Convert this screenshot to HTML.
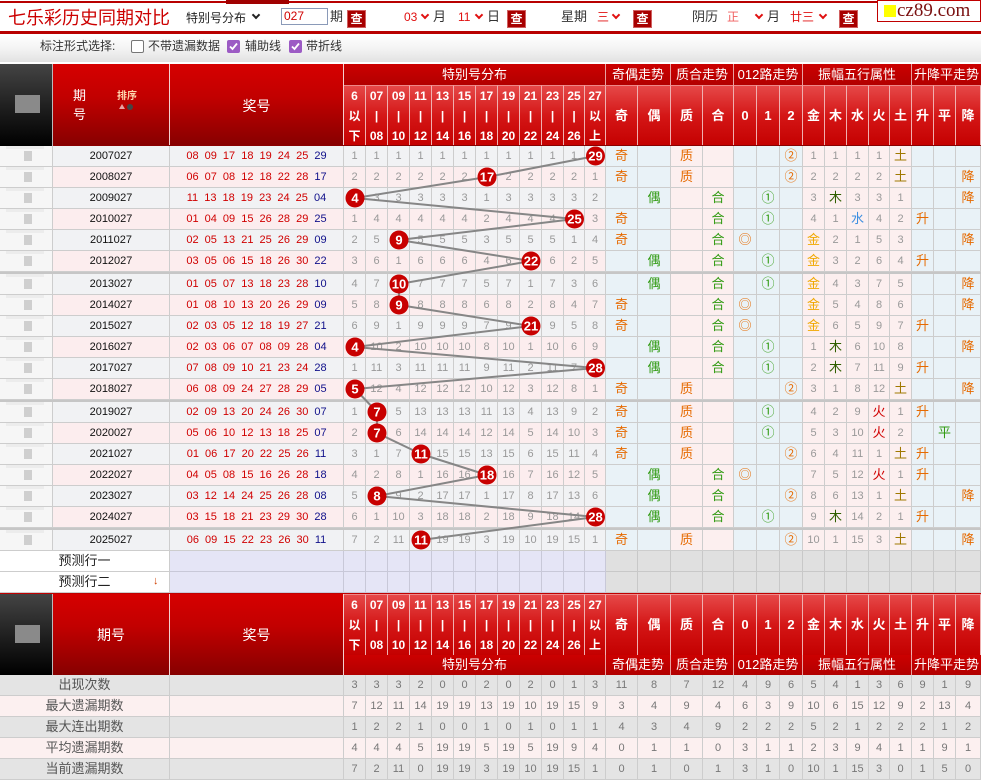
<!DOCTYPE html>
<html><head><meta charset="utf-8">
<style>
*{margin:0;padding:0;box-sizing:border-box}
html,body{width:981px;height:781px;overflow:hidden;background:#fff}
body{position:relative;font-family:"Liberation Sans","Noto Sans CJK SC",sans-serif;font-size:12px;color:#333}
.a{position:absolute;white-space:nowrap}
.btn{position:absolute;top:10px;width:19px;height:18px;background:#a80000;color:#fff;font-size:12px;line-height:16px;text-align:center;font-weight:bold;border:1px solid #d06060}
.rd{color:#e01010}
.ch{position:absolute;top:12px;width:6px;height:6px;border-right:2px solid #e01010;border-bottom:2px solid #e01010;transform:rotate(45deg)}
.cb{position:absolute;top:40px;width:13px;height:13px;border-radius:2px}
.imgc{background:linear-gradient(#8a8a8a,#8a8a8a) 15px 31px/25px 18px no-repeat,linear-gradient(#777,#777) 28px 31px/12px 9px no-repeat,linear-gradient(#444,#1a1a1a 60%,#000);border-right:1px solid #bbb}
.lh{background:linear-gradient(#d60000,#c20000 40%,#860000);border-right:1px solid #f4d0d0;color:#fff}
.g1{position:absolute;height:21px;line-height:21px;text-align:center;color:#fff;font-size:13px;background:linear-gradient(#cc0000,#b20000);border-right:1px solid #e8a0a0}
.hn{position:absolute;left:344px;height:61px;display:flex}
.hn i{font-style:normal;flex:none;width:22px;height:61px;color:#fff;font-weight:bold;font-size:12px;line-height:20px;text-align:center;border-right:1px solid #f0b0b0;border-top:1px solid #e88;background:linear-gradient(#e64848,#d41616 50%,#c40000)}
.hn i:nth-child(11),.hn i:nth-child(12),.hn i:nth-child(23){width:21px}
.hn i:nth-child(13),.hn i:nth-child(15){width:32px}
.hn i:nth-child(14){width:33px}
.hn i:nth-child(16){width:31px}
.hn i:nth-child(17),.hn i:nth-child(18),.hn i:nth-child(19){width:23px}
.hn i:nth-child(27){width:25px}
.hn i:nth-child(n+13){line-height:59px;font-size:13px}
.r{position:absolute;left:0;width:981px;height:21px;display:flex;font-size:11px;color:#999}
.r>i{font-style:normal;flex:none;width:22px;height:21px;line-height:20px;text-align:center;border-right:1px solid #cdcdcd;border-bottom:1px solid #cdcdcd;overflow:hidden;white-space:nowrap}
.r>i:nth-child(1){width:53px}
.r>i:nth-child(2){width:117px}
.r>i:nth-child(3){width:174px}
.r>i:nth-child(14),.r>i:nth-child(15),.r>i:nth-child(26){width:21px}
.r>i:nth-child(16),.r>i:nth-child(18){width:32px}
.r>i:nth-child(17){width:33px}
.r>i:nth-child(19){width:31px}
.r>i:nth-child(20),.r>i:nth-child(21),.r>i:nth-child(22){width:23px}
.r>i:nth-child(30){width:25px}
.o>i{background:#f1f2f4}
.e>i{background:#fcedee}
.d>i:nth-child(1){background:linear-gradient(#cfcfcf,#cfcfcf) 24px 5px/8px 10px no-repeat,linear-gradient(#ececec,#ececec) 6px 0/38px 3px no-repeat,#f6f6f6}
.d>i:nth-child(2){color:#111}
.d>i:nth-child(16),.d>i:nth-child(17),.d>i:nth-child(20),.d>i:nth-child(21),.d>i:nth-child(22),.d>i:nth-child(28),.d>i:nth-child(29),.d>i:nth-child(30){background:#e9f2f7}
.d>i:nth-child(18),.d>i:nth-child(19),.d>i:nth-child(23),.d>i:nth-child(24),.d>i:nth-child(25),.d>i:nth-child(26),.d>i:nth-child(27){background:#fcefef}
.n{color:#d00000;word-spacing:3px}
.n b{color:#10108a;font-weight:normal}
.q,.g,.j,.m,.s,.h,.t{font-size:13px}
.q{color:#e66a00}.g{color:#2f9a10}.j{color:#f0a800}.m{color:#2f5f00}.s{color:#3d8fe0}.h{color:#d00000}.t{color:#a07800}
.sep{position:absolute;left:0;width:981px;height:2px;background:#c6c6c6}
.p>i:nth-child(1),.st>i:nth-child(1),.sp>i:nth-child(1){width:0;border:0}
.p>i:nth-child(2),.st>i:nth-child(2),.sp>i:nth-child(2){width:170px;font-size:13px;color:#222}
.p>i:nth-child(2){background:#fff}
.p>i:nth-child(n+3){background:#e5e5f6;border-color:#c8c8d8}
.p>i:nth-child(n+16){background:#e0e0e0;border-color:#c8c8c8}
.st>i{background:#e4e4e4;color:#777}
.sp>i{background:#fcf0f0;color:#777}
.st>i:nth-child(2),.sp>i:nth-child(2){color:#555}
</style></head><body>

<!-- top bar -->
<div class="a" style="left:0;top:1px;width:877px;height:2px;background:#b80000"></div>
<div class="a" style="left:226px;top:0;width:63px;height:4px;background:#a00000"></div>
<div class="a" style="left:8px;top:7px;font-size:18px;line-height:22px;color:#cc0000">七乐彩历史同期对比</div>
<div class="a" style="left:186px;top:11px;font-size:12px;line-height:14px;color:#222">特别号分布</div>
<div class="ch" style="left:253px;border-color:#222"></div>
<div class="a" style="left:281px;top:8px;width:47px;height:17px;border:1px solid #8a9ab8;background:#fff;color:#d00000;font-size:12px;line-height:15px;padding-left:2px">027</div>
<div class="a" style="left:330px;top:9px;font-size:13px;line-height:16px">期</div>
<div class="btn" style="left:347px">查</div>
<div class="a rd" style="left:404px;top:10px;font-size:12px;line-height:14px">03</div>
<div class="ch" style="left:422px"></div>
<div class="a" style="left:433px;top:9px;font-size:13px;line-height:16px">月</div>
<div class="a rd" style="left:458px;top:10px;font-size:12px;line-height:14px">11</div>
<div class="ch" style="left:476px"></div>
<div class="a" style="left:487px;top:9px;font-size:13px;line-height:16px">日</div>
<div class="btn" style="left:507px">查</div>
<div class="a" style="left:561px;top:9px;font-size:13px;line-height:16px">星期</div>
<div class="a rd" style="left:597px;top:9px;font-size:12px;line-height:16px">三</div>
<div class="ch" style="left:613px"></div>
<div class="btn" style="left:633px">查</div>
<div class="a" style="left:692px;top:9px;font-size:13px;line-height:16px">阴历</div>
<div class="a" style="left:727px;top:9px;font-size:12px;line-height:16px;color:#f06060">正</div>
<div class="ch" style="left:756px"></div>
<div class="a" style="left:767px;top:9px;font-size:13px;line-height:16px">月</div>
<div class="a rd" style="left:790px;top:9px;font-size:12px;line-height:16px">廿三</div>
<div class="ch" style="left:820px"></div>
<div class="btn" style="left:839px">查</div>
<div class="a" style="left:877px;top:0;width:104px;height:22px;border:1px solid #c00000;background:#fff"></div>
<div class="a" style="left:884px;top:5px;width:12px;height:12px;background:#ffff00"></div>
<div class="a" style="left:897px;top:0;font-family:'Liberation Serif',serif;font-size:19px;line-height:21px;color:#7a1010">cz89.com</div>
<div class="a" style="left:0;top:31px;width:981px;height:3px;background:#b80000"></div>
<div class="a" style="left:0;top:34px;width:981px;height:28px;background:linear-gradient(#fff,#f4f4f4 50%,#e2e2e2)"></div>
<div class="a" style="left:40px;top:39px;font-size:12px;line-height:14px;color:#333">标注形式选择:</div>
<div class="cb" style="left:131px;border:1px solid #767676;background:#fff"></div>
<div class="a" style="left:148px;top:39px;font-size:12px;line-height:14px;color:#333">不带遗漏数据</div>
<div class="cb" style="left:227px;background:#9c5bc4"><svg width="13" height="13"><polyline points="3,6.5 5.5,9 10,3.5" fill="none" stroke="#fff" stroke-width="1.8"/></svg></div>
<div class="a" style="left:245px;top:39px;font-size:12px;line-height:14px;color:#333">辅助线</div>
<div class="cb" style="left:289px;background:#9c5bc4"><svg width="13" height="13"><polyline points="3,6.5 5.5,9 10,3.5" fill="none" stroke="#fff" stroke-width="1.8"/></svg></div>
<div class="a" style="left:306px;top:39px;font-size:12px;line-height:14px;color:#333">带折线</div>

<!-- top header -->
<div class="a imgc" style="left:0;top:64px;width:53px;height:82px"></div>
<div class="a lh" style="left:53px;top:64px;width:117px;height:82px"></div>
<div class="a" style="left:73px;top:88px;font-size:13px;line-height:16px;color:#fff">期</div>
<div class="a" style="left:73px;top:107px;font-size:13px;line-height:16px;color:#fff">号</div>
<div class="a" style="left:117px;top:91px;font-size:10px;line-height:11px;color:#ffd8b0;font-weight:bold">排序</div>
<div class="a" style="left:119px;top:104px;width:0;height:0;border-left:3px solid transparent;border-right:3px solid transparent;border-bottom:5px solid #e8a0a0"></div>
<div class="a" style="left:127px;top:104px;width:6px;height:6px;border-radius:3px;background:#444"></div>
<div class="a lh" style="left:170px;top:64px;width:174px;height:82px;text-align:center;font-size:14px;line-height:84px">奖号</div>
<div class="g1" style="left:344px;top:64px;width:262px">特别号分布</div>
<div class="g1" style="left:606px;top:64px;width:65px">奇偶走势</div>
<div class="g1" style="left:671px;top:64px;width:63px">质合走势</div>
<div class="g1" style="left:734px;top:64px;width:69px">012路走势</div>
<div class="g1" style="left:803px;top:64px;width:109px">振幅五行属性</div>
<div class="g1" style="left:912px;top:64px;width:69px;border-right:0">升降平走势</div>
<div class="hn" style="top:85px"><i>6<br>以<br>下</i><i>07<br>|<br>08</i><i>09<br>|<br>10</i><i>11<br>|<br>12</i><i>13<br>|<br>14</i><i>15<br>|<br>16</i><i>17<br>|<br>18</i><i>19<br>|<br>20</i><i>21<br>|<br>22</i><i>23<br>|<br>24</i><i>25<br>|<br>26</i><i>27<br>以<br>上</i><i>奇</i><i>偶</i><i>质</i><i>合</i><i>0</i><i>1</i><i>2</i><i>金</i><i>木</i><i>水</i><i>火</i><i>土</i><i>升</i><i>平</i><i>降</i></div>
<div class="a" style="left:53px;top:145px;width:928px;height:1px;background:#8a0000"></div>

<!-- data rows -->
<div class="r d o" style="top:146px"><i></i><i>2007027</i><i class="n">08 09 17 18 19 24 25 <b>29</b></i><i>1</i><i>1</i><i>1</i><i>1</i><i>1</i><i>1</i><i>1</i><i>1</i><i>1</i><i>1</i><i>1</i><i></i><i class="q">奇</i><i></i><i class="q">质</i><i></i><i></i><i></i><i class="q">②</i><i>1</i><i>1</i><i>1</i><i>1</i><i class="t">土</i><i></i><i></i><i></i></div>
<div class="r d e" style="top:167px"><i></i><i>2008027</i><i class="n">06 07 08 12 18 22 28 <b>17</b></i><i>2</i><i>2</i><i>2</i><i>2</i><i>2</i><i>2</i><i></i><i>2</i><i>2</i><i>2</i><i>2</i><i>1</i><i class="q">奇</i><i></i><i class="q">质</i><i></i><i></i><i></i><i class="q">②</i><i>2</i><i>2</i><i>2</i><i>2</i><i class="t">土</i><i></i><i></i><i class="q">降</i></div>
<div class="r d o" style="top:188px"><i></i><i>2009027</i><i class="n">11 13 18 19 23 24 25 <b>04</b></i><i></i><i>3</i><i>3</i><i>3</i><i>3</i><i>3</i><i>1</i><i>3</i><i>3</i><i>3</i><i>3</i><i>2</i><i></i><i class="g">偶</i><i></i><i class="g">合</i><i></i><i class="g">①</i><i></i><i>3</i><i class="m">木</i><i>3</i><i>3</i><i>1</i><i></i><i></i><i class="q">降</i></div>
<div class="r d e" style="top:209px"><i></i><i>2010027</i><i class="n">01 04 09 15 26 28 29 <b>25</b></i><i>1</i><i>4</i><i>4</i><i>4</i><i>4</i><i>4</i><i>2</i><i>4</i><i>4</i><i>4</i><i></i><i>3</i><i class="q">奇</i><i></i><i></i><i class="g">合</i><i></i><i class="g">①</i><i></i><i>4</i><i>1</i><i class="s">水</i><i>4</i><i>2</i><i class="q">升</i><i></i><i></i></div>
<div class="r d o" style="top:230px"><i></i><i>2011027</i><i class="n">02 05 13 21 25 26 29 <b>09</b></i><i>2</i><i>5</i><i></i><i>5</i><i>5</i><i>5</i><i>3</i><i>5</i><i>5</i><i>5</i><i>1</i><i>4</i><i class="q">奇</i><i></i><i></i><i class="g">合</i><i class="q">◎</i><i></i><i></i><i class="j">金</i><i>2</i><i>1</i><i>5</i><i>3</i><i></i><i></i><i class="q">降</i></div>
<div class="r d e" style="top:251px"><i></i><i>2012027</i><i class="n">03 05 06 15 18 26 30 <b>22</b></i><i>3</i><i>6</i><i>1</i><i>6</i><i>6</i><i>6</i><i>4</i><i>6</i><i></i><i>6</i><i>2</i><i>5</i><i></i><i class="g">偶</i><i></i><i class="g">合</i><i></i><i class="g">①</i><i></i><i class="j">金</i><i>3</i><i>2</i><i>6</i><i>4</i><i class="q">升</i><i></i><i></i></div>
<div class="sep" style="top:272px"></div>
<div class="r d o" style="top:274px"><i></i><i>2013027</i><i class="n">01 05 07 13 18 23 28 <b>10</b></i><i>4</i><i>7</i><i></i><i>7</i><i>7</i><i>7</i><i>5</i><i>7</i><i>1</i><i>7</i><i>3</i><i>6</i><i></i><i class="g">偶</i><i></i><i class="g">合</i><i></i><i class="g">①</i><i></i><i class="j">金</i><i>4</i><i>3</i><i>7</i><i>5</i><i></i><i></i><i class="q">降</i></div>
<div class="r d e" style="top:295px"><i></i><i>2014027</i><i class="n">01 08 10 13 20 26 29 <b>09</b></i><i>5</i><i>8</i><i></i><i>8</i><i>8</i><i>8</i><i>6</i><i>8</i><i>2</i><i>8</i><i>4</i><i>7</i><i class="q">奇</i><i></i><i></i><i class="g">合</i><i class="q">◎</i><i></i><i></i><i class="j">金</i><i>5</i><i>4</i><i>8</i><i>6</i><i></i><i></i><i class="q">降</i></div>
<div class="r d o" style="top:316px"><i></i><i>2015027</i><i class="n">02 03 05 12 18 19 27 <b>21</b></i><i>6</i><i>9</i><i>1</i><i>9</i><i>9</i><i>9</i><i>7</i><i>9</i><i></i><i>9</i><i>5</i><i>8</i><i class="q">奇</i><i></i><i></i><i class="g">合</i><i class="q">◎</i><i></i><i></i><i class="j">金</i><i>6</i><i>5</i><i>9</i><i>7</i><i class="q">升</i><i></i><i></i></div>
<div class="r d e" style="top:337px"><i></i><i>2016027</i><i class="n">02 03 06 07 08 09 28 <b>04</b></i><i></i><i>10</i><i>2</i><i>10</i><i>10</i><i>10</i><i>8</i><i>10</i><i>1</i><i>10</i><i>6</i><i>9</i><i></i><i class="g">偶</i><i></i><i class="g">合</i><i></i><i class="g">①</i><i></i><i>1</i><i class="m">木</i><i>6</i><i>10</i><i>8</i><i></i><i></i><i class="q">降</i></div>
<div class="r d o" style="top:358px"><i></i><i>2017027</i><i class="n">07 08 09 10 21 23 24 <b>28</b></i><i>1</i><i>11</i><i>3</i><i>11</i><i>11</i><i>11</i><i>9</i><i>11</i><i>2</i><i>11</i><i>7</i><i></i><i></i><i class="g">偶</i><i></i><i class="g">合</i><i></i><i class="g">①</i><i></i><i>2</i><i class="m">木</i><i>7</i><i>11</i><i>9</i><i class="q">升</i><i></i><i></i></div>
<div class="r d e" style="top:379px"><i></i><i>2018027</i><i class="n">06 08 09 24 27 28 29 <b>05</b></i><i></i><i>12</i><i>4</i><i>12</i><i>12</i><i>12</i><i>10</i><i>12</i><i>3</i><i>12</i><i>8</i><i>1</i><i class="q">奇</i><i></i><i class="q">质</i><i></i><i></i><i></i><i class="q">②</i><i>3</i><i>1</i><i>8</i><i>12</i><i class="t">土</i><i></i><i></i><i class="q">降</i></div>
<div class="sep" style="top:400px"></div>
<div class="r d o" style="top:402px"><i></i><i>2019027</i><i class="n">02 09 13 20 24 26 30 <b>07</b></i><i>1</i><i></i><i>5</i><i>13</i><i>13</i><i>13</i><i>11</i><i>13</i><i>4</i><i>13</i><i>9</i><i>2</i><i class="q">奇</i><i></i><i class="q">质</i><i></i><i></i><i class="g">①</i><i></i><i>4</i><i>2</i><i>9</i><i class="h">火</i><i>1</i><i class="q">升</i><i></i><i></i></div>
<div class="r d e" style="top:423px"><i></i><i>2020027</i><i class="n">05 06 10 12 13 18 25 <b>07</b></i><i>2</i><i></i><i>6</i><i>14</i><i>14</i><i>14</i><i>12</i><i>14</i><i>5</i><i>14</i><i>10</i><i>3</i><i class="q">奇</i><i></i><i class="q">质</i><i></i><i></i><i class="g">①</i><i></i><i>5</i><i>3</i><i>10</i><i class="h">火</i><i>2</i><i></i><i class="g">平</i><i></i></div>
<div class="r d o" style="top:444px"><i></i><i>2021027</i><i class="n">01 06 17 20 22 25 26 <b>11</b></i><i>3</i><i>1</i><i>7</i><i></i><i>15</i><i>15</i><i>13</i><i>15</i><i>6</i><i>15</i><i>11</i><i>4</i><i class="q">奇</i><i></i><i class="q">质</i><i></i><i></i><i></i><i class="q">②</i><i>6</i><i>4</i><i>11</i><i>1</i><i class="t">土</i><i class="q">升</i><i></i><i></i></div>
<div class="r d e" style="top:465px"><i></i><i>2022027</i><i class="n">04 05 08 15 16 26 28 <b>18</b></i><i>4</i><i>2</i><i>8</i><i>1</i><i>16</i><i>16</i><i></i><i>16</i><i>7</i><i>16</i><i>12</i><i>5</i><i></i><i class="g">偶</i><i></i><i class="g">合</i><i class="q">◎</i><i></i><i></i><i>7</i><i>5</i><i>12</i><i class="h">火</i><i>1</i><i class="q">升</i><i></i><i></i></div>
<div class="r d o" style="top:486px"><i></i><i>2023027</i><i class="n">03 12 14 24 25 26 28 <b>08</b></i><i>5</i><i></i><i>9</i><i>2</i><i>17</i><i>17</i><i>1</i><i>17</i><i>8</i><i>17</i><i>13</i><i>6</i><i></i><i class="g">偶</i><i></i><i class="g">合</i><i></i><i></i><i class="q">②</i><i>8</i><i>6</i><i>13</i><i>1</i><i class="t">土</i><i></i><i></i><i class="q">降</i></div>
<div class="r d e" style="top:507px"><i></i><i>2024027</i><i class="n">03 15 18 21 23 29 30 <b>28</b></i><i>6</i><i>1</i><i>10</i><i>3</i><i>18</i><i>18</i><i>2</i><i>18</i><i>9</i><i>18</i><i>14</i><i></i><i></i><i class="g">偶</i><i></i><i class="g">合</i><i></i><i class="g">①</i><i></i><i>9</i><i class="m">木</i><i>14</i><i>2</i><i>1</i><i class="q">升</i><i></i><i></i></div>
<div class="sep" style="top:528px"></div>
<div class="r d o" style="top:530px"><i></i><i>2025027</i><i class="n">06 09 15 22 23 26 30 <b>11</b></i><i>7</i><i>2</i><i>11</i><i></i><i>19</i><i>19</i><i>3</i><i>19</i><i>10</i><i>19</i><i>15</i><i>1</i><i class="q">奇</i><i></i><i class="q">质</i><i></i><i></i><i></i><i class="q">②</i><i>10</i><i>1</i><i>15</i><i>3</i><i class="t">土</i><i></i><i></i><i class="q">降</i></div>
<div class="r p" style="top:551px"><i></i><i>预测行一</i><i></i><i></i><i></i><i></i><i></i><i></i><i></i><i></i><i></i><i></i><i></i><i></i><i></i><i></i><i></i><i></i><i></i><i></i><i></i><i></i><i></i><i></i><i></i><i></i><i></i><i></i><i></i><i></i></div>
<div class="r p" style="top:572px"><i></i><i>预测行二</i><i></i><i></i><i></i><i></i><i></i><i></i><i></i><i></i><i></i><i></i><i></i><i></i><i></i><i></i><i></i><i></i><i></i><i></i><i></i><i></i><i></i><i></i><i></i><i></i><i></i><i></i><i></i><i></i></div>
<div class="a" style="left:153px;top:575px;font-size:11px;line-height:12px;color:#d04000;font-weight:bold">↓</div>

<!-- bottom header -->
<div class="a" style="left:0;top:593px;width:981px;height:1px;background:#c00000"></div>
<div class="a imgc" style="left:0;top:594px;width:53px;height:81px"></div>
<div class="a lh" style="left:53px;top:594px;width:117px;height:81px;text-align:center;font-size:14px;line-height:82px">期号</div>
<div class="a lh" style="left:170px;top:594px;width:174px;height:81px;text-align:center;font-size:14px;line-height:82px">奖号</div>
<div class="hn" style="top:594px"><i>6<br>以<br>下</i><i>07<br>|<br>08</i><i>09<br>|<br>10</i><i>11<br>|<br>12</i><i>13<br>|<br>14</i><i>15<br>|<br>16</i><i>17<br>|<br>18</i><i>19<br>|<br>20</i><i>21<br>|<br>22</i><i>23<br>|<br>24</i><i>25<br>|<br>26</i><i>27<br>以<br>上</i><i>奇</i><i>偶</i><i>质</i><i>合</i><i>0</i><i>1</i><i>2</i><i>金</i><i>木</i><i>水</i><i>火</i><i>土</i><i>升</i><i>平</i><i>降</i></div>
<div class="g1" style="left:344px;top:655px;height:20px;line-height:20px;width:262px">特别号分布</div>
<div class="g1" style="left:606px;top:655px;height:20px;line-height:20px;width:65px">奇偶走势</div>
<div class="g1" style="left:671px;top:655px;height:20px;line-height:20px;width:63px">质合走势</div>
<div class="g1" style="left:734px;top:655px;height:20px;line-height:20px;width:69px">012路走势</div>
<div class="g1" style="left:803px;top:655px;height:20px;line-height:20px;width:109px">振幅五行属性</div>
<div class="g1" style="left:912px;top:655px;height:20px;line-height:20px;width:69px;border-right:0">升降平走势</div>

<!-- stats -->
<div class="r st" style="top:675px"><i></i><i>出现次数</i><i></i><i>3</i><i>3</i><i>3</i><i>2</i><i>0</i><i>0</i><i>2</i><i>0</i><i>2</i><i>0</i><i>1</i><i>3</i><i>11</i><i>8</i><i>7</i><i>12</i><i>4</i><i>9</i><i>6</i><i>5</i><i>4</i><i>1</i><i>3</i><i>6</i><i>9</i><i>1</i><i>9</i></div>
<div class="r sp" style="top:696px"><i></i><i>最大遗漏期数</i><i></i><i>7</i><i>12</i><i>11</i><i>14</i><i>19</i><i>19</i><i>13</i><i>19</i><i>10</i><i>19</i><i>15</i><i>9</i><i>3</i><i>4</i><i>9</i><i>4</i><i>6</i><i>3</i><i>9</i><i>10</i><i>6</i><i>15</i><i>12</i><i>9</i><i>2</i><i>13</i><i>4</i></div>
<div class="r st" style="top:717px"><i></i><i>最大连出期数</i><i></i><i>1</i><i>2</i><i>2</i><i>1</i><i>0</i><i>0</i><i>1</i><i>0</i><i>1</i><i>0</i><i>1</i><i>1</i><i>4</i><i>3</i><i>4</i><i>9</i><i>2</i><i>2</i><i>2</i><i>5</i><i>2</i><i>1</i><i>2</i><i>2</i><i>2</i><i>1</i><i>2</i></div>
<div class="r sp" style="top:738px"><i></i><i>平均遗漏期数</i><i></i><i>4</i><i>4</i><i>4</i><i>5</i><i>19</i><i>19</i><i>5</i><i>19</i><i>5</i><i>19</i><i>9</i><i>4</i><i>0</i><i>1</i><i>1</i><i>0</i><i>3</i><i>1</i><i>1</i><i>2</i><i>3</i><i>9</i><i>4</i><i>1</i><i>1</i><i>9</i><i>1</i></div>
<div class="r st" style="top:759px"><i></i><i>当前遗漏期数</i><i></i><i>7</i><i>2</i><i>11</i><i>0</i><i>19</i><i>19</i><i>3</i><i>19</i><i>10</i><i>19</i><i>15</i><i>1</i><i>0</i><i>1</i><i>0</i><i>1</i><i>3</i><i>1</i><i>0</i><i>10</i><i>1</i><i>15</i><i>3</i><i>0</i><i>1</i><i>5</i><i>0</i></div>

<!-- balls overlay -->
<svg class="a" style="left:0;top:0" width="981" height="781" viewBox="0 0 981 781">
<polyline points="595.5,156 487,177 355,198 574.5,219 399,240 531,261 399,284 399,305 531,326 355,347 595.5,368 355,389 377,412 377,433 421,454 487,475 377,496 595.5,517 421,540" fill="none" stroke="#868686" stroke-width="2" stroke-linejoin="round"/>
<g fill="#c80000">
<circle cx="595.5" cy="156" r="9.5"/><circle cx="487" cy="177" r="9.5"/><circle cx="355" cy="198" r="9.5"/><circle cx="574.5" cy="219" r="9.5"/><circle cx="399" cy="240" r="9.5"/><circle cx="531" cy="261" r="9.5"/><circle cx="399" cy="284" r="9.5"/><circle cx="399" cy="305" r="9.5"/><circle cx="531" cy="326" r="9.5"/><circle cx="355" cy="347" r="9.5"/><circle cx="595.5" cy="368" r="9.5"/><circle cx="355" cy="389" r="9.5"/><circle cx="377" cy="412" r="9.5"/><circle cx="377" cy="433" r="9.5"/><circle cx="421" cy="454" r="9.5"/><circle cx="487" cy="475" r="9.5"/><circle cx="377" cy="496" r="9.5"/><circle cx="595.5" cy="517" r="9.5"/><circle cx="421" cy="540" r="9.5"/>
</g>
<g fill="#fff" font-family="Liberation Sans, sans-serif" font-size="13" font-weight="bold" text-anchor="middle">
<text x="595.5" y="160.5">29</text><text x="487" y="181.5">17</text><text x="355" y="202.5">4</text><text x="574.5" y="223.5">25</text><text x="399" y="244.5">9</text><text x="531" y="265.5">22</text><text x="399" y="288.5">10</text><text x="399" y="309.5">9</text><text x="531" y="330.5">21</text><text x="355" y="351.5">4</text><text x="595.5" y="372.5">28</text><text x="355" y="393.5">5</text><text x="377" y="416.5">7</text><text x="377" y="437.5">7</text><text x="421" y="458.5">11</text><text x="487" y="479.5">18</text><text x="377" y="500.5">8</text><text x="595.5" y="521.5">28</text><text x="421" y="544.5">11</text>
</g>
</svg>
</body></html>
